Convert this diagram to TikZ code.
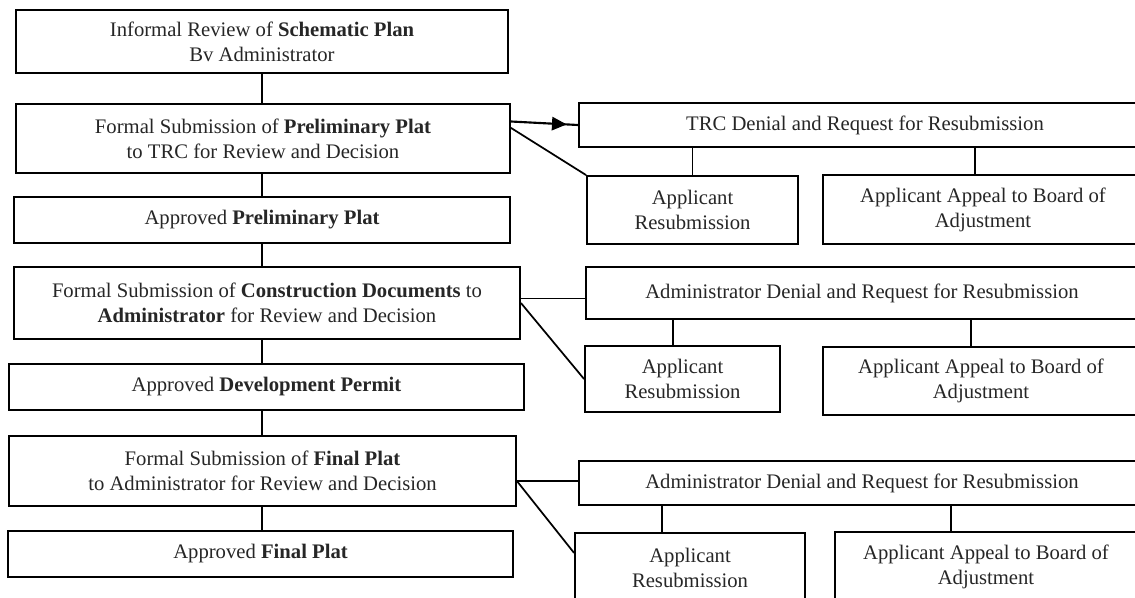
\documentclass[tikz,border=0pt]{standalone}
\usepackage{fontspec}
\setmainfont{Liberation Serif}
\usetikzlibrary{calc,arrows.meta,decorations.markings}
\begin{document}
\begin{tikzpicture}[x=0.75pt,y=-0.75pt]
\tikzset{
  bx/.style={draw=black, line width=1.4pt, inner sep=0pt, align=center,
    font=\fontsize{15.5pt}{18.75pt}\selectfont, text=black!85},
  sz/.style 2 args={minimum width=#1*0.75pt, minimum height=#2*0.75pt},
  conn/.style={draw=black, line width=1.3pt},
  arrowconn/.style={draw=black, line width=1.6pt, postaction={decorate},
    decoration={markings, mark=at position 0.83 with {\arrow{Triangle[length=11pt,width=10pt]}}}}
}
\useasboundingbox (0,0) rectangle (1135,597);
\clip (0,0) rectangle (1135,597);
\fill[white] (0,0) rectangle (1135,597);

% left column
\node[bx, sz={492}{63}] (b1) at (262,41.5) {Informal Review of \textbf{Schematic Plan}\\Bv Administrator};
\node[bx, sz={494}{69}] (b2) at (263,138.5) {Formal Submission of \textbf{Preliminary Plat}\\to TRC for Review and Decision};
\node[bx, sz={496}{46}] (b3) at (262,220) {Approved \textbf{Preliminary Plat}};
\node[bx, sz={506}{72}] (b4) at (267,303) {Formal Submission of \textbf{Construction Documents} to\\\textbf{Administrator} for Review and Decision};
\node[bx, sz={515}{46}] (b5) at (266.5,387) {Approved \textbf{Development Permit}};
\node[bx, sz={507}{70}] (b6) at (262.5,471) {Formal Submission of \textbf{Final Plat}\\to Administrator for Review and Decision};
\node[bx, sz={505}{46}] (b7) at (260.5,554) {Approved \textbf{Final Plat}};

% right group 1
\node[bx, sz={572}{44}] (d1) at (865,125) {TRC Denial and Request for Resubmission};
\node[bx, sz={211}{68}] (r1) at (692.5,210) {Applicant\\Resubmission};
\node[bx, sz={320}{69}] (a1) at (983,209.5) {Applicant Appeal to Board of\\Adjustment};

% right group 2
\node[bx, sz={552}{52}] (d2) at (862,293) {Administrator Denial and Request for Resubmission};
\node[bx, sz={195}{66}] (r2) at (682.5,379) {Applicant\\Resubmission};
\node[bx, sz={316}{68}] (a2) at (981,381) {Applicant Appeal to Board of\\Adjustment};

% right group 3
\node[bx, sz={566}{44}] (d3) at (862,483) {Administrator Denial and Request for Resubmission};
\node[bx, sz={230}{70}] (r3) at (690,568) {Applicant\\Resubmission};
\node[bx, sz={302}{70}] (a3) at (986,567) {Applicant Appeal to Board of\\Adjustment};

% left column connectors
\draw[conn] (b1.south) -- (b1.south |- b2.north);
\draw[conn] (b1.south |- b2.south) -- (b1.south |- b3.north);
\draw[conn] (b1.south |- b3.south) -- (b1.south |- b4.north);
\draw[conn] (b1.south |- b4.south) -- (b1.south |- b5.north);
\draw[conn] (b1.south |- b5.south) -- (b1.south |- b6.north);
\draw[conn] (b1.south |- b6.south) -- (b1.south |- b7.north);

% group 1 connectors
\coordinate (p2a) at ($(b2.north east)!0.26!(b2.south east)$);
\coordinate (p2b) at ($(b2.north east)!0.35!(b2.south east)$);
\draw[arrowconn] (p2a) -- (d1.west);
\draw[conn] (p2b) -- (r1.north west);
\coordinate (c1) at (r1.north);
\coordinate (c2) at ($(a1.north)+(-8,0)$);
\draw[conn] (c1 |- d1.south) -- (c1);
\draw[conn] (c2 |- d1.south) -- (c2);

% group 2 connectors
\coordinate (p4a) at ($(b4.north east)!0.44!(b4.south east)$);
\draw[conn] (p4a) -- (p4a -| d2.west);
\draw[conn] (b4.east) -- (r2.west);
\coordinate (c3) at ($(r2.north)+(-9.5,0)$);
\coordinate (c4) at ($(a2.north)+(-10,0)$);
\draw[conn] (c3 |- d2.south) -- (c3);
\draw[conn] (c4 |- d2.south) -- (c4);

% group 3 connectors
\coordinate (p6) at ($(b6.north east)!0.64!(b6.south east)$);
\draw[conn] (p6) -- (p6 -| d3.west);
\draw[conn] (p6) -- ($(r3.north west)!0.29!(r3.south west)$);
\coordinate (c5) at ($(r3.north)+(-28,0)$);
\coordinate (c6) at ($(a3.north)+(-35,0)$);
\draw[conn] (c5 |- d3.south) -- (c5);
\draw[conn] (c6 |- d3.south) -- (c6);
\end{tikzpicture}
\end{document}
